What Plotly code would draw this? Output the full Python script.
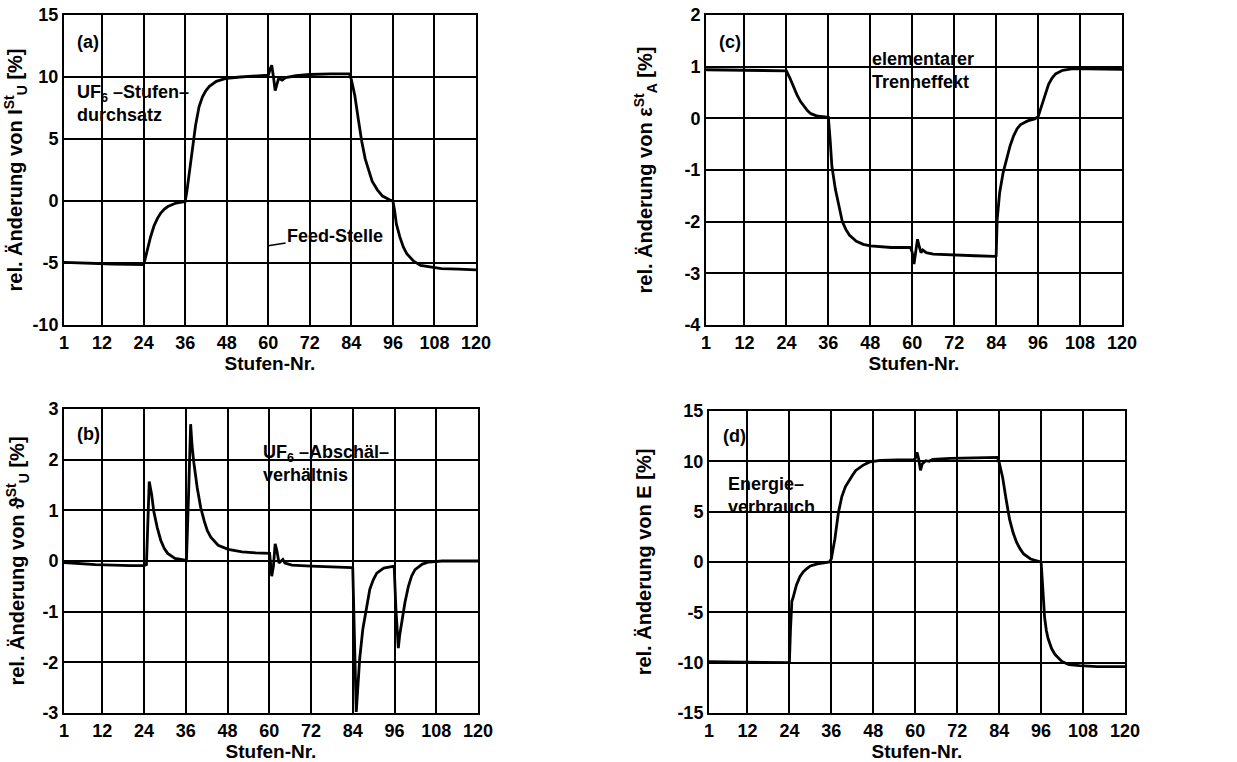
import plotly.graph_objects as go

# ---------------- data ----------------
stage_ticks = [1, 12, 24, 36, 48, 60, 72, 84, 96, 108, 120]

# (a) UF6 stage throughput
xa = [1, 5, 10, 15, 20, 24, 24.5, 25, 26, 27, 28, 29, 30, 31, 33, 35, 36, 36.5, 37, 38,
      39, 40, 41, 42, 43, 45, 48, 52, 56, 59.5, 60, 60.5, 61, 61.5, 62, 62.5, 63, 64, 65, 68,
      72, 78, 83, 83.5, 84, 85, 86, 87, 88, 89, 90, 91.5, 93, 95, 96, 96.5, 97, 98, 99, 100,
      102, 104, 107, 110, 115, 120]
ya = [-4.95, -5.0, -5.05, -5.08, -5.1, -5.12, -4.6, -4.0, -2.9, -2.0, -1.4, -0.95, -0.65, -0.45,
      -0.2, -0.1, -0.05, 0.8, 1.85, 4.0, 6.1, 7.6, 8.4, 8.9, 9.25, 9.65, 9.9, 10.0, 10.05, 10.1,
      10.15, 10.6, 10.95, 10.0, 8.9, 9.4, 9.9, 9.75, 9.95, 10.1, 10.2, 10.25, 10.3, 10.25, 9.8,
      8.5, 6.6, 4.8, 3.4, 2.4, 1.6, 0.9, 0.4, 0.1, 0.0, -0.8, -1.85, -2.9, -3.7, -4.25, -4.85,
      -5.2, -5.35, -5.45, -5.5, -5.55]
ya_ticks = [-10, -5, 0, 5, 10, 15]

# (b) UF6 cut ratio
xb = [1, 10, 20, 24, 24.7, 25.5, 26.2, 26.8, 27.8, 28.8, 29.8, 30.8, 32.9, 34.8, 36.0, 36.2,
      36.8, 37.4, 37.8, 38.3, 39.3, 40.3, 41.3, 42.2, 43.2, 45.3, 48.2, 52.2, 56.1, 59.7, 60.1,
      60.7, 61.2, 61.7, 62.2, 62.8, 63.4, 63.9, 64.5, 66.5, 72, 78, 83.7, 84.0, 84.5, 85.0, 85.4,
      86.0, 86.9, 88.0, 88.9, 89.9, 90.9, 92.9, 95.5, 95.9, 96.4, 97.1, 97.5, 98.1, 99.0, 100.0,
      100.9, 101.9, 104.0, 105.9, 109.7, 120]
yb = [-0.03, -0.07, -0.09, -0.09, -0.07, 1.57, 1.31, 0.98, 0.66, 0.41, 0.25, 0.15, 0.05, 0.02,
      0.01, 0.01, 1.3, 2.7, 2.28, 1.95, 1.44, 1.05, 0.79, 0.6, 0.47, 0.31, 0.23, 0.18, 0.16, 0.15,
      0.15, -0.3, -0.1, 0.34, 0.2, -0.04, 0.0, 0.03, -0.04, -0.08, -0.1, -0.11, -0.13, -0.14,
      -1.6, -2.98, -2.56, -1.92, -1.34, -0.88, -0.56, -0.37, -0.24, -0.14, -0.1, -0.1, -0.94,
      -1.72, -1.46, -1.2, -0.82, -0.5, -0.3, -0.17, -0.06, -0.02, 0.0, 0.0]
yb_ticks = [-3, -2, -1, 0, 1, 2, 3]

# (c) elementary separation effect
xc = [1, 10, 20, 24, 25, 26, 27, 28, 29, 30, 31, 33, 35, 36, 36.5, 37, 38, 39, 40, 41,
      42, 44, 46, 48, 54, 59.5, 60, 60.5, 61, 61.5, 62, 62.5, 63, 64, 66, 72, 78, 83.5, 84, 84.3,
      85, 86, 87, 88, 89, 90, 91, 93, 95, 96, 97, 98, 99, 100, 101, 103, 106, 110, 115, 120]
yc = [0.94, 0.93, 0.92, 0.92, 0.78, 0.61, 0.46, 0.33, 0.24, 0.15, 0.09, 0.04, 0.03, 0.02, -0.4,
      -0.92, -1.37, -1.72, -2.0, -2.15, -2.26, -2.38, -2.44, -2.47, -2.5, -2.5, -2.6, -2.82, -2.6,
      -2.34, -2.48, -2.6, -2.55, -2.6, -2.63, -2.65, -2.66, -2.67, -2.66, -1.95, -1.44, -1.05,
      -0.79, -0.53, -0.34, -0.2, -0.12, -0.05, -0.01, 0.03, 0.24, 0.46, 0.66, 0.78, 0.86, 0.93,
      0.96, 0.96, 0.95, 0.95]
yc_ticks = [-4, -3, -2, -1, 0, 1, 2]

# (d) energy consumption
xd = [1, 10, 20, 24, 24.3, 24.7, 25, 26, 27, 28, 29, 30, 32, 34, 35.5, 36, 37, 38, 39, 40,
      41, 42, 43, 45, 47, 50, 55, 59.5, 60, 60.5, 61, 61.5, 62, 63, 64, 65, 70, 80, 83.5, 84,
      85, 86, 87, 88, 89, 90, 91, 93, 95, 96, 96.3, 96.7, 97, 97.5, 98, 99, 100, 102, 104, 107,
      112, 120]
yd = [-9.9, -9.95, -10.0, -10.0, -6.8, -3.9, -3.6, -2.3, -1.46, -0.97, -0.65, -0.39, -0.19, -0.1,
      0.0, 0.32, 2.27, 4.87, 6.5, 7.47, 8.1, 8.6, 9.1, 9.6, 9.94, 10.1, 10.15, 10.15, 10.26, 10.9,
      10.2, 9.1, 9.74, 10.06, 10.0, 10.2, 10.3, 10.4, 10.4, 9.9, 8.4, 6.2, 4.2, 2.9, 1.95, 1.3,
      0.8, 0.3, 0.06, 0.0, -1.6, -4.2, -5.5, -6.8, -7.6, -8.6, -9.2, -9.9, -10.2, -10.3, -10.4,
      -10.4]
yd_ticks = [-15, -10, -5, 0, 5, 10, 15]

# ---------------- figure ----------------
W, H = 1237, 762
FONT = "Liberation Sans, Arial, Helvetica, sans-serif"


def xdom(l, r):
    return [l / W, r / W]


def ydom(t, b):
    return [1 - b / H, 1 - t / H]


fig = go.Figure()
line = dict(color="black", width=2.8)
fig.add_trace(go.Scatter(x=xa, y=ya, mode="lines", line=line, xaxis="x", yaxis="y", hoverinfo="skip"))
fig.add_trace(go.Scatter(x=xc, y=yc, mode="lines", line=line, xaxis="x2", yaxis="y2", hoverinfo="skip"))
fig.add_trace(go.Scatter(x=xb, y=yb, mode="lines", line=line, xaxis="x3", yaxis="y3", hoverinfo="skip"))
fig.add_trace(go.Scatter(x=xd, y=yd, mode="lines", line=line, xaxis="x4", yaxis="y4", hoverinfo="skip"))

tickfont = dict(family=FONT, size=18, color="black", weight="bold")
xtitlefont = dict(family=FONT, size=19, color="black", weight="bold")
ytitlefont = dict(family=FONT, size=20, color="black", weight="bold")


def xax(dom, anchor, standoff):
    return dict(domain=dom, anchor=anchor, range=[1, 120], tickvals=stage_ticks,
                showline=True, linecolor="black", linewidth=2, mirror=True,
                showgrid=True, gridcolor="black", gridwidth=1.6, zeroline=False,
                ticks="", tickfont=tickfont, automargin=False,
                title=dict(text="Stufen-Nr.", font=xtitlefont, standoff=standoff))


def yax(dom, anchor, ticks, title, standoff):
    return dict(domain=dom, anchor=anchor, range=[ticks[0], ticks[-1]],
                tickvals=ticks, ticktext=[str(t) for t in ticks],
                showline=True, linecolor="black", linewidth=2, mirror=True,
                showgrid=True, gridcolor="black", gridwidth=1.6, zeroline=False,
                ticks="", tickfont=tickfont, automargin=False,
                title=dict(text=title, font=ytitlefont, standoff=standoff))


fig.update_layout(
    width=W, height=H, margin=dict(l=0, r=0, t=0, b=0),
    paper_bgcolor="white", plot_bgcolor="white", showlegend=False,
    xaxis=xax(xdom(64, 476), "y", 3),
    yaxis=yax(ydom(15, 325), "x", ya_ticks,
              "rel. Änderung von I<sup>St</sup><sub>U</sub> [%]", 4),
    xaxis2=xax(xdom(706, 1122), "y2", 3),
    yaxis2=yax(ydom(15, 325), "x2", yc_ticks,
               "rel. Änderung von ε<sup>St</sup><sub>A</sub> [%]", 26),
    xaxis3=xax(xdom(64, 478), "y3", 0),
    yaxis3=yax(ydom(409, 713), "x3", yb_ticks,
               "rel. Änderung von ϑ<sup>St</sup><sub>U</sub> [%]", 12),
    xaxis4=xax(xdom(709, 1125), "y4", 0),
    yaxis4=yax(ydom(411, 713), "x4", yd_ticks,
               "rel. Änderung von E [%]", 20),
)

afont = dict(family=FONT, size=18, color="black", weight="bold")
ann = [
    dict(xref="x", yref="y", x=4.2, y=12.8, text="(a)", showarrow=False, xanchor="left", font=afont),
    dict(xref="x", yref="y", x=4.2, y=7.9, text="UF<sub>6</sub> –Stufen–<br>durchsatz", showarrow=False,
         xanchor="left", align="left", font=afont),
    dict(xref="x", yref="y", x=60, y=-3.6, ax=79.3, ay=-2.8, axref="x", ayref="y",
         text="Feed-Stelle", showarrow=True, arrowhead=0, arrowwidth=1.5, arrowcolor="black", font=afont),
    dict(xref="x2", yref="y2", x=4.2, y=1.48, text="(c)", showarrow=False, xanchor="left", font=afont),
    dict(xref="x2", yref="y2", x=48, y=0.92, text="elementarer<br>Trenneffekt", showarrow=False,
         xanchor="left", align="left", font=afont),
    dict(xref="x3", yref="y3", x=4.2, y=2.5, text="(b)", showarrow=False, xanchor="left", font=afont),
    dict(xref="x3", yref="y3", x=57.6, y=1.93, text="UF<sub>6</sub> –Abschäl–<br>verhältnis", showarrow=False,
         xanchor="left", align="left", font=afont),
    dict(xref="x4", yref="y4", x=4.5, y=12.5, text="(d)", showarrow=False, xanchor="left", font=afont),
    dict(xref="x4", yref="y4", x=5.8, y=6.6, text="Energie–<br>verbrauch", showarrow=False,
         xanchor="left", align="left", font=afont),
]
fig.update_layout(annotations=ann)

fig.write_html("out.html")
